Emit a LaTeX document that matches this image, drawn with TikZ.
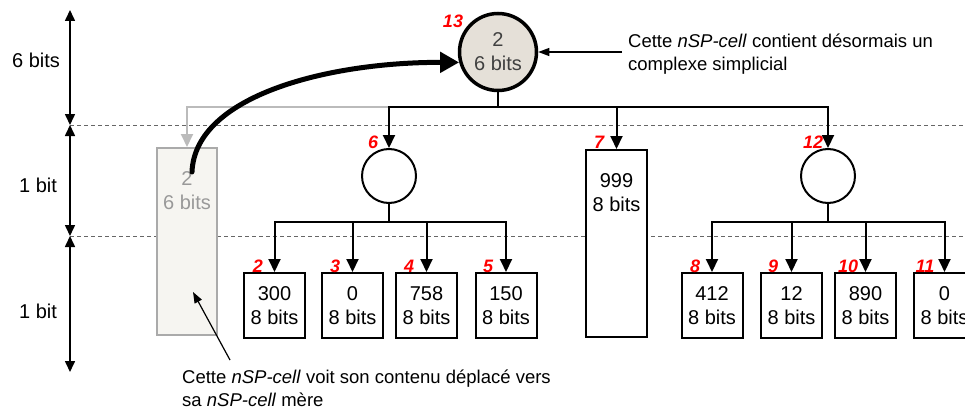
\documentclass[tikz,border=0pt]{standalone}
\usepackage{fontspec}
\setmainfont{Liberation Sans}
\usetikzlibrary{arrows.meta}
\definecolor{redlab}{HTML}{FF0000}
\definecolor{beige}{HTML}{E5E0D8}
\definecolor{paleg}{HTML}{F6F5F1}
\definecolor{grayline}{HTML}{AAAAAA}
\definecolor{graytxt}{HTML}{999999}
\definecolor{darktxt}{HTML}{404040}
\definecolor{dashc}{HTML}{666666}
\tikzset{
  txt/.style={font=\fontsize{20}{24}\selectfont, align=center, inner sep=0pt},
  ann/.style={font=\fontsize{18.5}{23}\selectfont, align=left, inner sep=0pt},
  idx/.style={font=\fontsize{18}{20}\selectfont\bfseries\itshape, text=redlab, inner sep=0pt},
  leaf/.style={draw, line width=2pt, fill=white, minimum width=61pt, minimum height=65pt, inner sep=0pt, txt},
  tall/.style={draw, line width=2pt, fill=white, minimum width=61pt, minimum height=187pt, inner sep=0pt},
  inner/.style={draw, circle, line width=2pt, fill=white, minimum size=54pt, inner sep=0pt},
  conn/.style={line width=2pt, -{Triangle[length=13pt,width=12pt]}},
  plain/.style={line width=2pt},
  dim/.style={line width=1.6pt, {Triangle[length=11pt,width=10pt]}-{Triangle[length=11pt,width=10pt]}},
  guide/.style={dashed, dash pattern=on 4pt off 3pt, line width=1pt, dashc},
  note/.style={line width=1.2pt, -{Triangle[length=11pt,width=8pt]}}
}
\begin{document}
\begin{tikzpicture}[x=1pt,y=-1pt]
\useasboundingbox (0,0) rectangle (965,409);
\clip (0,0) rectangle (965,409);
% guide lines
\coordinate (d1a) at (70,125); \coordinate (d1b) at (965,125);
\coordinate (d2a) at (70,236); \coordinate (d2b) at (965,236);
\draw[guide] (d1a) -- (d1b);
\draw[guide] (d2a) -- (d2b);
% dimension arrows
\coordinate (v0) at (70,10); \coordinate (v3) at (70,372);
\draw[dim] (v0) -- (d1a);
\draw[dim] (d1a) -- (d2a);
\draw[dim] (d2a) -- (v3);
\node[txt] (l6) at (36,60) {6 bits};
\node[txt] (l1a) at (38,185) {1 bit};
\node[txt] (l1b) at (38,311) {1 bit};
% root
\node[draw, circle, line width=3.5pt, fill=beige, minimum size=77pt, inner sep=0pt, txt, text=darktxt] (c13) at (498,52) {2\\6 bits};
\node[idx] (i13) at (453,21) {13};
% level 1
\node[inner] (c6) at (389,176) {};
\node[tall] (b7) at (616.5,243.5) {};
\node[txt] (t7) at (616.5,193) {999\\8 bits};
\node[inner] (c12) at (828,176) {};
\node[draw=grayline, line width=2pt, fill=paleg, minimum width=60pt, minimum height=187pt, inner sep=0pt] (bg) at (187,241.5) {};
\node[txt, text=graytxt] (tg) at (187,191) {2\\6 bits};
\node[idx] (i6) at (373,142) {6};
\node[idx] (i7) at (599,142) {7};
\node[idx] (i12) at (813,142) {12};
% level 2
\node[leaf] (b2) at (274.5,305.5) {300\\8 bits};
\node[leaf] (b3) at (352.5,305.5) {0\\8 bits};
\node[leaf] (b4) at (426.5,305.5) {758\\8 bits};
\node[leaf] (b5) at (506,305.5) {150\\8 bits};
\node[leaf] (b8) at (712,305.5) {412\\8 bits};
\node[leaf] (b9) at (791.5,305.5) {12\\8 bits};
\node[leaf] (b10) at (865.5,305.5) {890\\8 bits};
\node[leaf] (b11) at (944.5,305.5) {0\\8 bits};
\node[idx] (i2) at (258,266) {2};
\node[idx] (i3) at (335,266) {3};
\node[idx] (i4) at (409,266) {4};
\node[idx] (i5) at (488,266) {5};
\node[idx] (i8) at (695,266) {8};
\node[idx] (i9) at (773,266) {9};
\node[idx] (i10) at (848,266) {10};
\node[idx] (i11) at (925,266) {11};
% connectors root
\coordinate (r) at (498,107);
\coordinate (g) at (389,107);
\draw[line width=2pt, grayline!80, -{Triangle[length=13pt,width=12pt]}] (g) -| (bg.north);
\draw[plain] (c13.south) -- (r);
\draw[conn] (r) -| (c6.north);
\draw[conn] (r) -| (b7.north);
\draw[conn] (r) -| (c12.north);
% level 2 connectors
\coordinate (r6) at (389,222);
\draw[plain] (c6.south) -- (r6);
\draw[conn] (r6) -| (b2.north);
\draw[conn] (r6) -| (b3.north);
\draw[conn] (r6) -| (b4.north);
\draw[conn] (r6) -| (b5.north);
\coordinate (r12) at (828,222);
\draw[plain] (c12.south) -- (r12);
\draw[conn] (r12) -| (b8.north);
\draw[conn] (r12) -| (b9.north);
\draw[conn] (r12) -| (b10.north);
\draw[conn] (r12) -| (b11.north);
% thick move arrow
\coordinate (ms) at (192,172);
\draw[line width=5pt, line cap=round, -{Triangle[length=19pt,width=20pt]}] (ms) .. controls (195,95) and (330,62) .. (c13.195);
% annotations
\node[ann, anchor=west] (n1) at (628,54.5) {Cette \textit{nSP-cell} contient désormais un\\complexe simplicial};
\coordinate (a1) at (622,52);
\draw[note] (a1) -- (c13.east);
\node[ann, anchor=west] (n2) at (182,388.5) {Cette \textit{nSP-cell} voit son contenu déplacé vers\\sa \textit{nSP-cell} mère};
\coordinate (a2) at (230,360);
\coordinate (a2e) at (193,292);
\draw[note] (a2) -- (a2e);
\end{tikzpicture}
\end{document}
